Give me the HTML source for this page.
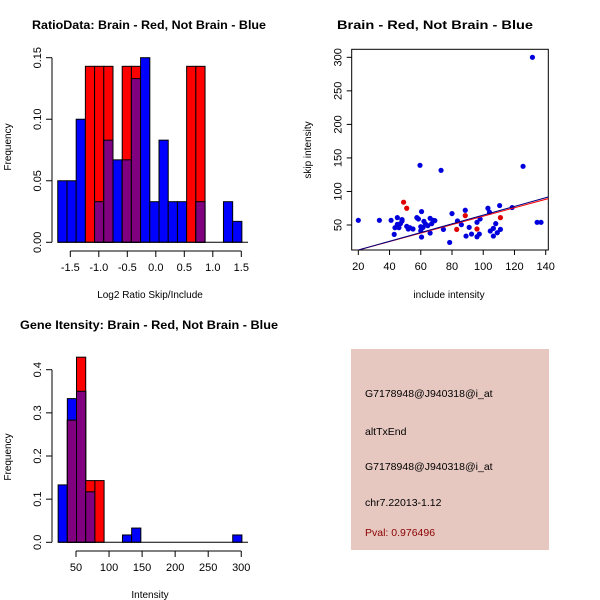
<!DOCTYPE html>
<html><head><meta charset="utf-8"><style>
body{margin:0;background:#fff;}
svg{display:block;font-family:"Liberation Sans",sans-serif;}
</style></head><body>
<svg id="c" width="600" height="600" xmlns="http://www.w3.org/2000/svg"></svg>
<script>
// ---- Panel 1: ratio histogram ----
const ratioBinStart = -1.72;
const ratioBinWidth = 0.1615;
const ratioBlue = [0.05,0.05,0.1,0,0.033,0.083,0.067,0.067,0.133,0.15,0.033,0.083,0.033,0.033,0,0.033,0,0,0.033,0.017];
const ratioRed = [0,0,0,0.143,0.143,0.143,0,0.143,0.143,0,0,0,0,0,0.143,0.143,0,0,0,0];
const ratioXTicks = [-1.5,-1.0,-0.5,0.0,0.5,1.0,1.5];
const ratioXLabels = ["-1.5","-1.0","-0.5","0.0","0.5","1.0","1.5"];
const ratioYTicks = [0,0.05,0.10,0.15];
const ratioYLabels = ["0.00","0.05","0.10","0.15"];
// ---- Panel 2: scatter ----
const blueX = [20,33.5,41,43,43.5,45,45,46,47,48,48,51,52,53,55,57.5,58.5,59.5,60,60,60.5,60.5,61.5,62,63,64.5,66,66,67,68,69,73,74.5,78.5,80,83.5,86,88.5,89,91,92.5,96,96,97.5,98,103,104,104.5,106.5,106.5,108,109,110.5,111,118.5,125.5,131.5,134.5,137];
const blueY = [57,57,57,36,46,61,51,46,52,56,58,48,44,46,44,61,59,139,47.5,41.5,70,32,46.5,55.5,51.5,49,60,38,52,57,56.5,131.5,43.5,24,67,56,50.5,72,33.5,46.5,36.5,32.5,54,36.5,59,75,69,41,45,33.5,52,38.5,79,43.5,76,137.5,300,54,54];
const redX = [49,51,88.5,83,96,111];
const redY = [84,75,64,43.5,44,61];
const blueFit = [-0.3,0.65]; // intercept, slope
const redFit = [0.1,0.63];
const scXTicks = [20,40,60,80,100,120,140];
const scYTicks = [50,100,150,200,250,300];
// ---- Panel 3: intensity histogram ----
const intBinStart = 23;
const intBinWidth = 13.9;
const intBlue = [0.133,0.333,0.35,0.117,0,0,0,0.017,0.033,0,0,0,0,0,0,0,0,0,0,0.017];
const intRed = [0,0.283,0.429,0.143,0.143,0,0,0,0,0,0,0,0,0,0,0,0,0,0,0];
const intXTicks = [50,100,150,200,250,300];
const intYTicks = [0,0.1,0.2,0.3,0.4];
const intYLabels = ["0.0","0.1","0.2","0.3","0.4"];

const svg = document.getElementById('c');
const NS = 'http://www.w3.org/2000/svg';
function mk(tag, attrs, parent){const e=document.createElementNS(NS,tag);for(const k in attrs)e.setAttribute(k,attrs[k]);(parent||svg).appendChild(e);return e;}
function txt(x,y,s,opts,parent){const e=mk('text',Object.assign({x:x,y:y,'font-size':11,'text-anchor':'middle',fill:'#000'},opts||{}),parent);e.textContent=s;return e;}

function hist(g, binStart, binW, blue, red, sx, sy){
  for(let i=0;i<blue.length;i++){
    const x0=sx(binStart+i*binW), x1=sx(binStart+(i+1)*binW);
    const drawBar=(v,color,name)=>{
      if(v<=0) return;
      const r=mk('rect',{x:x0,y:sy(v),width:x1-x0,height:sy(0)-sy(v),fill:color,stroke:'#000','stroke-width':1},g);
      
      
    };
    drawBar(blue[i],'#0000ff','bar-not-brain-'+i);
    drawBar(red[i],'#ff0000','bar-brain-'+i);
    drawBar(Math.min(blue[i],red[i]),'#800080','bar-overlap-'+i);
  }
}
function yAxis(g,x,ticks,labels,sy,y0,y1){
  mk('line',{x1:x,y1:sy(y0),x2:x,y2:sy(y1),stroke:'#000'},g);
  ticks.forEach((t,i)=>{const y=sy(t);mk('line',{x1:x-6,y1:y,x2:x,y2:y,stroke:'#000'},g);
    txt(x-11,y,labels[i],{transform:`rotate(-90 ${x-11} ${y})`},g);});
}
function xAxis(g,y,ticks,labels,sx){
  mk('line',{x1:sx(ticks[0]),y1:y,x2:sx(ticks[ticks.length-1]),y2:y,stroke:'#000'},g);
  ticks.forEach((t,i)=>{const x=sx(t);mk('line',{x1:x,y1:y,x2:x,y2:y+6,stroke:'#000'},g);txt(x,y+20,labels[i],{},g);});
}

// Panel 1
{
  const g=mk('g',{});  
  const sx=v=>70.3+(v+1.5)*57; const sy=v=>242.3-v*(184.6/0.15);
  hist(g,ratioBinStart,ratioBinWidth,ratioBlue,ratioRed,sx,sy);
  mk('line',{x1:sx(ratioBinStart),y1:242.3,x2:248,y2:242.3,stroke:'#000'},g);
  const ya=mk('g',{},g);  
  yAxis(ya,52,ratioYTicks,ratioYLabels,sy,0,0.15);
  const xa=mk('g',{},g);  
  xAxis(xa,251,ratioXTicks,ratioXLabels,sx);
  const t=txt(149,29,'RatioData: Brain - Red, Not Brain - Blue',{'font-weight':'bold','font-size':12,textLength:234,lengthAdjust:'spacingAndGlyphs'},g);  
  const xl=txt(150,298,'Log2 Ratio Skip/Include',{'font-size':10},g);  
  const yl=txt(11,147,'Frequency',{'font-size':10,transform:'rotate(-90 11 147)'},g);  
}
// Panel 2
{
  const g=mk('g',{});  
  const sx=v=>358.3+(v-20)*1.5617; const sy=v=>225-(v-50)*0.6707;
  const L=351.7,R=548.3,T=49.3,B=250;
  mk('defs',{},g).innerHTML='<clipPath id="clp"><rect x="351.7" y="49.3" width="196.6" height="200.7"/></clipPath>';
  const box=mk('rect',{x:L,y:T,width:R-L,height:B-T,fill:'none',stroke:'#000'},g);  
  blueX.forEach((x,i)=>{const c=mk('circle',{cx:sx(x),cy:sy(blueY[i]),r:2.6,fill:'#0000dd'},g);});
  redX.forEach((x,i)=>{const c=mk('circle',{cx:sx(x),cy:sy(redY[i]),r:2.6,fill:'#e00000'},g);});
  const lg=mk('g',{'clip-path':'url(#clp)'},g);
  const lr=mk('line',{x1:sx(10),y1:sy(redFit[0]+redFit[1]*10),x2:sx(150),y2:sy(redFit[0]+redFit[1]*150),stroke:'#ff0000'},lg);  
  const lb=mk('line',{x1:sx(10),y1:sy(blueFit[0]+blueFit[1]*10),x2:sx(150),y2:sy(blueFit[0]+blueFit[1]*150),stroke:'#000080'},lg);  
  const xa=mk('g',{},g);  
  scXTicks.forEach(t=>{const x=sx(t);mk('line',{x1:x,y1:B,x2:x,y2:B+5,stroke:'#000'},xa);txt(x,B+20,String(t),{},xa);});
  const ya=mk('g',{},g);  
  scYTicks.forEach(t=>{const y=sy(t);mk('line',{x1:L-5,y1:y,x2:L,y2:y,stroke:'#000'},ya);txt(L-10,y,String(t),{transform:`rotate(-90 ${L-10} ${y})`},ya);});
  const t=txt(435,29,'Brain - Red, Not Brain - Blue',{'font-weight':'bold','font-size':12,textLength:196,lengthAdjust:'spacingAndGlyphs'},g);  
  const xl=txt(449,298,'include intensity',{'font-size':10},g);  
  const yl=txt(311,150,'skip intensity',{'font-size':10,transform:'rotate(-90 311 150)'},g);  
}
// Panel 3
{
  const g=mk('g',{});  
  const sx=v=>76+(v-50)*0.661; const sy=v=>542.3-v*(172.6/0.4);
  hist(g,intBinStart,intBinWidth,intBlue,intRed,sx,sy);
  mk('line',{x1:sx(intBinStart),y1:542.3,x2:248,y2:542.3,stroke:'#000'},g);
  const ya=mk('g',{},g);  
  yAxis(ya,52,intYTicks,intYLabels,sy,0,0.4);
  const xa=mk('g',{},g);  
  xAxis(xa,551,intXTicks,intXTicks.map(String),sx);
  const t=txt(149,329,'Gene Itensity: Brain - Red, Not Brain - Blue',{'font-weight':'bold','font-size':12,textLength:258,lengthAdjust:'spacingAndGlyphs'},g);  
  const xl=txt(150,598,'Intensity',{'font-size':10},g);  
  const yl=txt(11,457,'Frequency',{'font-size':10,transform:'rotate(-90 11 457)'},g);  
}
// Panel 4: info box
{
  const g=mk('g',{});  
  mk('rect',{x:351,y:349,width:198,height:201,fill:'#e6c8c0'},g);
  const lines=[['G7178948@J940318@i_at',397,'#000','probe-id'],['altTxEnd',435,'#000','event-type'],['G7178948@J940318@i_at',470,'#000','probe-id-2'],['chr7.22013-1.12',506,'#000','location'],['Pval: 0.976496',536,'#8b0000','p-value']];
  lines.forEach(l=>{const e=txt(365,l[1],l[0],{'text-anchor':'start','font-size':10.5,fill:l[2]},g);});
}
</script>
</body></html>
